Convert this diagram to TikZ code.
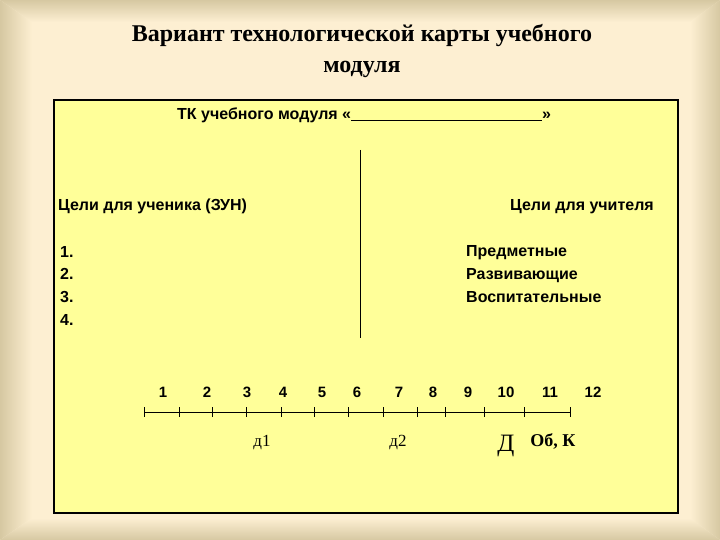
\documentclass[tikz,border=0pt]{standalone}
\usepackage{fontspec}
\setmainfont{Liberation Serif}
\newfontfamily\arial{Liberation Sans}
\definecolor{bgc}{RGB}{253,239,210}
\definecolor{edgec}{RGB}{214,200,162}
\definecolor{boxc}{RGB}{255,255,153}
\tikzset{
  sans/.style={font=\arial\bfseries\fontsize{16}{18}\selectfont, inner sep=0pt},
  titlef/.style={font=\bfseries\fontsize{24}{28}\selectfont, inner sep=0pt, anchor=base},
  num/.style={font=\arial\bfseries\fontsize{15}{17}\selectfont, inner sep=0pt, anchor=base},
  lab/.style={font=\fontsize{17}{20}\selectfont, inner sep=0pt, anchor=base},
  tick/.style={line width=1pt},
}
\begin{document}
\begin{tikzpicture}[x=1pt,y=-1pt]
\useasboundingbox (0,0) rectangle (720,540);
\fill[bgc] (0,0) rectangle (720,540);
\shade[left color=edgec, right color=bgc] (0,0) -- (32,22) -- (32,518) -- (0,540) -- cycle;
\shade[top color=edgec, bottom color=bgc] (0,0) -- (720,0) -- (690,22) -- (32,22) -- cycle;
\shade[left color=bgc, right color=edgec] (720,0) -- (690,22) -- (690,518) -- (720,540) -- cycle;
\shade[top color=bgc, bottom color=edgec] (0,540) -- (32,518) -- (690,518) -- (720,540) -- cycle;

\node (t1) [titlef] at (362,42) {Вариант технологической карты учебного};
\node (t2) [titlef] at (362,73) {модуля};

\node (box) [draw, line width=2.5pt, fill=boxc, inner sep=0pt, minimum width=624pt, minimum height=413pt] at (366,306.5) {};

\node (tk) [sans, anchor=base west] at (177,120) {ТК учебного модуля «\rule[-1.5pt]{191pt}{1pt}»};

\coordinate (vtop) at (360,150);
\coordinate (vbot) at (360,338);
\draw[line width=1pt] (vtop) -- (vbot);

\node (gs) [sans, anchor=base west] at (58,211) {Цели для ученика (ЗУН)};
\node (gt) [sans, anchor=base east] at (654,211) {Цели для учителя};

\node (n1) [sans, anchor=base west] at (60,257) {1.};
\node (n2) [sans, anchor=base west] at (60,279) {2.};
\node (n3) [sans, anchor=base west] at (60,302) {3.};
\node (n4) [sans, anchor=base west] at (60,325) {4.};

\node (p1) [sans, anchor=base west] at (466,256) {Предметные};
\node (p2) [sans, anchor=base west] at (466,279) {Развивающие};
\node (p3) [sans, anchor=base west] at (466,302) {Воспитательные};

\coordinate (l0) at (144,412);
\coordinate (l1) at (571,412);
\draw[tick] (l0) -- (l1);
\foreach \x in {144,179,212,246,281,314,348,383,417,445,484,524,570}{
  \draw[tick] (\x,407) -- (\x,417);
}
\foreach \x/\t in {163/1,207/2,247/3,283/4,322/5,357/6,399/7,433/8,468/9,506/10,550/11,593/12}{
  \node (num\t) [num] at (\x,397) {\t};
}
\node (d1) [lab] at (262,446) {д1};
\node (d2) [lab] at (398,446) {д2};
\node (dd) [lab, font=\fontsize{25}{28}\selectfont] at (506,451) {Д};
\node (ob) [lab, font=\bfseries\fontsize{18}{20}\selectfont] at (553,446) {Об, К};
\end{tikzpicture}
\end{document}
